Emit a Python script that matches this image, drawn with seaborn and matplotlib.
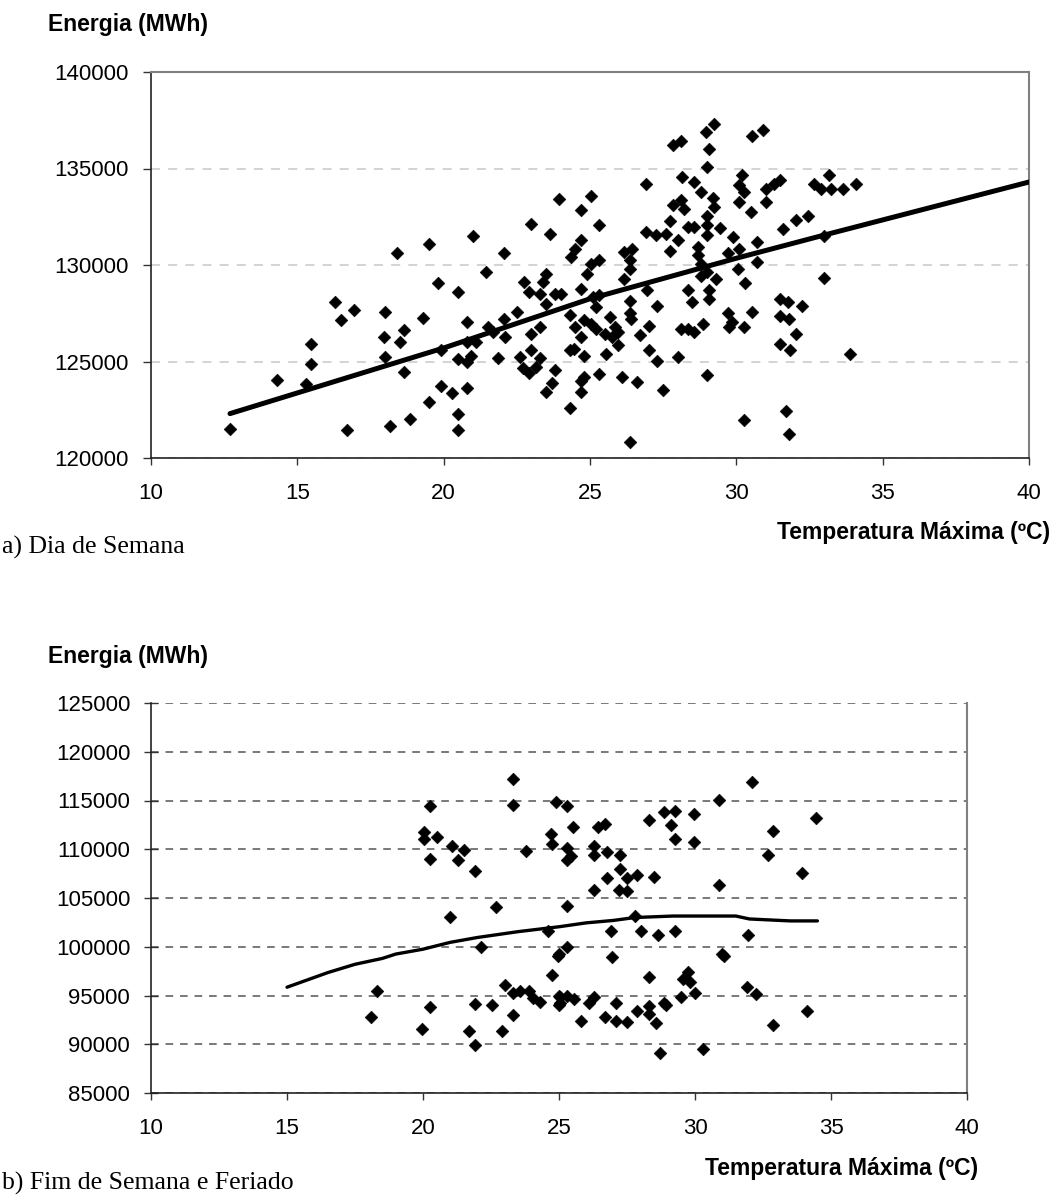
import matplotlib
matplotlib.use("Agg")
import matplotlib.pyplot as plt
import seaborn as sns

# weekday: max temperature vs energy
wk_temp = [12.7, 14.3, 15.3, 15.45, 15.45, 16.3, 16.5, 16.95, 16.7, 18.0, 17.95, 18.0, 18.15, 18.4,
           18.5, 18.65, 18.65, 18.85, 19.3, 19.5, 19.5, 19.8, 19.9, 19.9, 20.3, 20.5, 20.5, 20.5,
           20.5, 20.8, 20.8, 20.8, 20.8, 20.95, 21.0, 21.1, 21.45, 21.5, 21.7, 21.85, 22.05, 22.05,
           22.1, 22.5, 22.6, 22.7, 22.75, 22.9, 23.0, 23.0, 23.0, 22.9, 23.15, 23.3, 23.3, 23.3,
           23.4, 23.5, 23.5, 23.65, 23.5, 23.7, 23.8, 23.8, 23.95,
           24.0, 25.05, 24.7, 25.3, 24.7, 24.5, 24.35, 25.05, 25.3, 24.9, 24.7, 24.3, 24.5, 24.7,
           24.8, 25.05, 25.2, 25.1, 25.3, 25.2, 24.3, 24.45, 24.8, 24.7, 24.8, 24.7, 24.3, 25.3,
           25.55, 25.5, 25.7, 25.85, 25.75, 25.95, 25.95, 26.1, 26.15, 26.45, 26.35, 26.35, 26.15,
           26.35, 26.35, 26.4, 26.7, 26.35, 26.6, 26.9, 26.9, 27.25, 27.6, 26.95, 27.3, 27.0, 27.0,
           27.3, 27.5, 27.75, 28.0, 27.75, 27.85, 28.1, 28.2, 28.35, 28.55, 27.85, 28.1, 28.15,
           28.55, 28.8, 29.0, 29.05, 28.95, 29.25, 29.2, 29.25, 29.0, 29.0, 29.0, 29.45, 28.7, 28.7,
           28.8, 28.8, 29.0, 29.3, 28.35, 28.5, 29.05, 29.05, 28.0, 28.1, 28.35, 28.55, 28.85, 29.0,
           29.7, 29.9, 30.1, 30.05, 30.3, 30.7, 30.7, 30.2, 30.1, 30.25, 30.1, 30.5, 30.55, 30.9,
           31.0, 31.0, 31.3, 31.5, 31.6, 32.05, 32.45, 32.65, 32.9, 33.15, 33.25, 33.65, 34.1, 33.0,
           33.0, 33.9, 29.7, 29.85, 29.75, 30.25, 30.55, 31.5, 31.75, 31.5, 31.8, 32.25, 32.05, 31.5,
           31.85, 31.7, 31.8, 30.25]
wk_energy = [121500, 124050, 123850, 124850, 125900, 128100, 127150, 127650, 121450, 127550, 126250,
             125250, 121650, 130600, 126000, 126650, 124450, 122000, 127250, 131100, 122900, 129050,
             125600, 123750, 123350, 128600, 125150, 122300, 121450, 127050, 126000, 124950, 123650,
             125300, 131500, 126000, 129650, 126800, 126550, 125200, 130600, 127200, 126250, 127550,
             125250, 124650, 129100, 128600, 132150, 126450, 125600, 124400, 124700, 125200, 126800,
             128500, 129100, 129550, 128000, 131600, 123400, 123900, 124550, 128500, 133400,
             128500, 133600, 132850, 132050, 131300, 130850, 130400, 130050, 130250, 129550, 128750,
             127400, 126800, 126250, 127150, 126950, 126700, 128350, 128450, 127800, 125600, 125650,
             125300, 124000, 124200, 123400, 122600, 124350, 125400, 126450, 127300, 126800, 126250,
             126550, 125850, 124200, 130650, 130850, 130250, 129800, 129300, 128150, 127500, 127200,
             126350, 120850, 123950, 134200, 131700, 131550, 131600, 128700, 127900, 126850, 125600,
             125050, 123500, 130750, 131300, 132300, 133100, 133350, 132900, 131950, 131950, 136200,
             136450, 134550, 134300, 133800, 135100, 136000, 136900, 137300, 133450, 133000, 132550,
             132050, 131550, 131900, 130950, 130500, 130050, 129450, 129650, 129300, 128700, 128100,
             128700, 128250, 125250, 126700, 126700, 126550, 126950, 124300, 130600, 131450, 130850,
             129800, 129050, 130150, 131200, 134650, 134150, 133800, 133250, 132750, 136700, 137000,
             133950, 133250, 134200, 134400, 131850, 132350, 132550, 134200, 133950, 134650, 133950,
             133950, 134200, 131500, 129350, 125400, 127500, 127050, 126800, 126800, 127550, 128250,
             128100, 127350, 127200, 127900, 126400, 125900, 125600, 122450, 121250, 121950]
wk_trend_temp = [12.7, 20, 25, 30, 33, 40]
wk_trend_energy = [122300, 125700, 128250, 130350, 131550, 134300]

# weekend and holidays
we_temp = [23.3, 23.3, 20.25, 20.05, 20.05, 20.5, 20.25, 21.05, 21.5, 21.3, 21.9, 22.7, 21.0, 22.15,
           23.8, 24.7, 24.75, 24.9, 24.6, 24.95, 24.75, 18.3, 18.1, 20.25, 19.95, 21.9, 21.7, 21.9,
           22.55, 22.9, 23.0, 23.3, 23.3, 23.55, 23.9, 24.05, 24.3, 25.0, 25.0,
           32.1, 25.3, 30.9, 34.45, 25.5, 25.3, 25.45, 25.3, 26.45, 26.7, 26.3, 26.3, 26.75, 27.25,
           27.25, 27.5, 27.85, 26.75, 26.3, 27.2, 27.5, 28.5, 28.3, 28.85, 29.25, 29.1, 29.25, 29.95,
           29.95, 32.7, 32.85, 33.95, 30.9, 25.3, 27.8, 26.9, 28.0, 28.65, 29.25, 31.95, 25.3, 25.0,
           26.95, 31.0, 31.05, 28.3, 29.75, 29.55, 29.8, 30.0, 31.9, 32.25, 29.5, 28.85, 28.95, 28.3,
           28.3, 27.85, 28.55, 27.1, 27.1, 27.5, 26.7, 26.1, 26.3, 25.8, 25.55, 25.3, 25.05, 25.05,
           34.1, 32.85, 28.7, 30.3]
we_energy = [117200, 114550, 114400, 111800, 111050, 111300, 109050, 110300, 109950, 108850, 107800,
             104100, 103050, 100000, 109850, 111550, 110550, 114850, 101650, 99100, 97150, 95500,
             92800, 93850, 91600, 94100, 91350, 89950, 94000, 91350, 96050, 95300, 93000, 95500,
             95450, 94750, 94350, 94950, 94000,
             116900, 114400, 115050, 113200, 112300, 110100, 109350, 108900, 112300, 112600, 110300,
             109450, 109700, 109400, 107950, 107100, 107350, 107100, 105800, 105850, 105750, 107200,
             112950, 113800, 113950, 112500, 111100, 113650, 110700, 109400, 111900, 107550, 106350,
             104150, 103150, 101650, 101650, 101200, 101650, 101200, 100000, 99250, 98950, 99300,
             99050, 96900, 97400, 96650, 96400, 95300, 95850, 95200, 94800, 94250, 94000, 93900,
             93150, 93400, 92150, 94250, 92350, 92300, 92800, 94250, 94800, 92350, 94600, 94950,
             94250, 94850, 93400, 91950, 89100, 89550]
we_trend_temp = [15, 16.5, 17.5, 18.5, 19, 20, 21, 22, 23.5, 25, 26, 27, 27.8, 29.2, 31.5, 32, 33.5, 34.5]
we_trend_energy = [95850, 97350, 98200, 98800, 99250, 99750, 100450, 100950, 101550, 102050, 102450,
                   102700, 103000, 103150, 103150, 102850, 102650, 102650]

sns.set_theme(style="white")
plt.rcParams['font.family'] = ['Liberation Sans', 'DejaVu Sans']
plt.rcParams['text.color'] = 'black'
plt.rcParams['xtick.labelcolor'] = 'black'
plt.rcParams['ytick.labelcolor'] = 'black'

W, H = 1054, 1197
fig = plt.figure(figsize=(W / 100, H / 100), dpi=100)


def box(l, t, r, b):
    return [l / W, 1 - b / H, (r - l) / W, (b - t) / H]


ax1 = fig.add_axes(box(151, 72, 1029, 458))
ax2 = fig.add_axes(box(151, 703, 967, 1093))

sns.scatterplot(x=wk_temp, y=wk_energy, marker='D', s=42, color='black',
                edgecolor='black', linewidth=0.4, ax=ax1, zorder=3)
sns.lineplot(x=wk_trend_temp, y=wk_trend_energy, color='black', linewidth=3.6, ax=ax1, zorder=4)

sns.scatterplot(x=we_temp, y=we_energy, marker='D', s=42, color='black',
                edgecolor='black', linewidth=0.4, ax=ax2, zorder=3)
sns.lineplot(x=we_trend_temp, y=we_trend_energy, color='black', linewidth=2.4, ax=ax2, zorder=4)

ax1.set_ylim(120000, 140000)
ax1.set_yticks(range(120000, 140001, 5000))
ax2.set_ylim(85000, 125000)
ax2.set_yticks(range(85000, 125001, 5000))

for ax in (ax1, ax2):
    ax.set_xlim(10, 40)
    ax.set_xticks(range(10, 41, 5))
    ax.set_xlabel('')
    ax.set_ylabel('')
    ax.set_axisbelow(True)
    ax.tick_params(axis='x', direction='out', length=5, width=1, color='#333333',
                   labelsize=16, pad=13, bottom=True)
    ax.spines['left'].set_color('#222222')
    ax.spines['bottom'].set_color('#222222')
    ax.spines['left'].set_linewidth(1.2)
    ax.spines['bottom'].set_linewidth(1.2)

ax1.tick_params(axis='y', direction='out', length=6, width=1, color='#333333',
                labelsize=16, pad=10, left=True)
ax2.tick_params(axis='y', direction='inout', length=10, width=1, color='#333333',
                labelsize=16, pad=10, left=True)

ax1.yaxis.grid(True, linestyle=(0, (5, 4.5)), color='#d0d0d0', linewidth=1.3)
ax2.yaxis.grid(True, linestyle=(0, (5, 4.5)), color='#555555', linewidth=1.1)

ax1.spines['top'].set_color('#808080')
ax1.spines['right'].set_color('#808080')
ax1.spines['top'].set_linewidth(1.5)
ax1.spines['right'].set_linewidth(1.5)
ax2.spines['top'].set_visible(False)
ax2.spines['right'].set_color('#808080')
ax2.spines['right'].set_linewidth(1.5)

serif = ['Liberation Serif', 'DejaVu Serif']
fig.text(48 / W, 1 - 25 / H, 'Energia (MWh)', fontsize=16.5, fontweight='bold', ha='left', va='center')
fig.text(48 / W, 1 - 656 / H, 'Energia (MWh)', fontsize=16.5, fontweight='bold', ha='left', va='center')
fig.text(1050 / W, 1 - 533 / H, 'Temperatura Máxima (ºC)', fontsize=16.5, fontweight='bold',
         ha='right', va='center')
fig.text(978 / W, 1 - 1168 / H, 'Temperatura Máxima (ºC)', fontsize=16.5, fontweight='bold',
         ha='right', va='center')
fig.text(2 / W, 1 - 547 / H, 'a) Dia de Semana', fontsize=18.5, family=serif, ha='left', va='center')
fig.text(2 / W, 1 - 1183 / H, 'b) Fim de Semana e Feriado', fontsize=18.5, family=serif,
         ha='left', va='center')

fig.savefig('out.png', dpi=100)
